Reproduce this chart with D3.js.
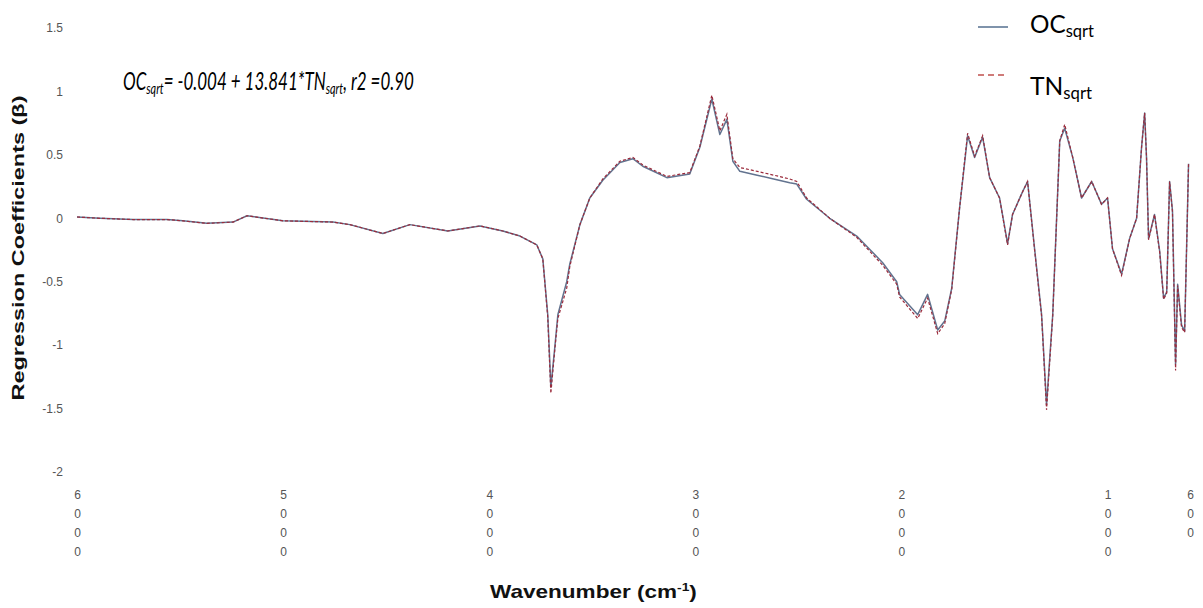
<!DOCTYPE html>
<html>
<head>
<meta charset="utf-8">
<script src="https://cdn.jsdelivr.net/npm/d3@7"></script>
<style>
  body { margin: 0; background: #fff; }
  svg { display: block; }
</style>
</head>
<body>
<div id="graph"></div>
<script>
// Chart data
var wavenumber = [6000, 5888, 5728, 5563, 5486, 5370, 5243, 5175, 5001, 4758, 4676, 4516, 4385, 4201, 4045,
    3934, 3851, 3769, 3740, 3716, 3701, 3682, 3667, 3624, 3609, 3560, 3512, 3449, 3366, 3303, 3255,
    3138, 3027, 2978, 2920, 2881, 2847, 2818, 2784, 2700, 2620, 2542, 2508, 2460, 2348, 2217, 2091, 2023, 2009,
    1921, 1873, 1824, 1790, 1756, 1718, 1679, 1645, 1606, 1572, 1524, 1485, 1461, 1412, 1388, 1354,
    1320, 1296, 1266, 1232, 1208, 1169, 1126, 1077, 1029, 1000, 976, 932, 893, 859, 835, 820,
    811, 801, 772, 747, 728, 713, 699, 685, 670, 660, 641, 626, 607];

var ocValues = [0.01, 0.00, -0.01, -0.01, -0.02, -0.04, -0.03, 0.02, -0.02, -0.03, -0.05, -0.12, -0.05, -0.10, -0.06,
    -0.10, -0.14, -0.21, -0.32, -0.76, -1.33, -1.02, -0.76, -0.50, -0.36, -0.05, 0.16, 0.30, 0.44, 0.47, 0.41,
    0.32, 0.35, 0.56, 0.94, 0.66, 0.78, 0.45, 0.37, 0.34, 0.31, 0.28, 0.27, 0.15, 0.00, -0.14, -0.35, -0.50, -0.60,
    -0.76, -0.60, -0.88, -0.81, -0.55, 0.08, 0.65, 0.48, 0.64, 0.32, 0.16, -0.20, 0.03, 0.21, 0.29, -0.24,
    -0.76, -1.47, -0.76, 0.61, 0.71, 0.48, 0.16, 0.29, 0.11, 0.16, -0.24, -0.44, -0.16, 0.00, 0.56, 0.83,
    0.48, -0.16, 0.03, -0.26, -0.63, -0.58, 0.29, 0.06, -1.15, -0.52, -0.84, -0.89, 0.43];

var tnValues = [0.01, 0.00, -0.01, -0.01, -0.02, -0.04, -0.03, 0.02, -0.02, -0.03, -0.05, -0.12, -0.05, -0.10, -0.06,
    -0.10, -0.14, -0.21, -0.32, -0.78, -1.38, -1.04, -0.79, -0.55, -0.38, -0.05, 0.16, 0.31, 0.45, 0.48, 0.42,
    0.33, 0.36, 0.57, 0.97, 0.69, 0.82, 0.47, 0.40, 0.37, 0.34, 0.31, 0.29, 0.16, 0.00, -0.15, -0.37, -0.52, -0.62,
    -0.79, -0.63, -0.91, -0.83, -0.56, 0.08, 0.67, 0.49, 0.65, 0.32, 0.16, -0.21, 0.03, 0.21, 0.29, -0.25,
    -0.77, -1.51, -0.77, 0.61, 0.74, 0.48, 0.16, 0.29, 0.11, 0.16, -0.24, -0.45, -0.16, 0.00, 0.56, 0.83,
    0.48, -0.17, 0.03, -0.27, -0.64, -0.59, 0.29, 0.05, -1.20, -0.53, -0.86, -0.90, 0.43];

var xTicks = [6000, 5000, 4000, 3000, 2000, 1000, 600];
var yTicks = [-2, -1.5, -1, -0.5, 0, 0.5, 1, 1.5];

// Canvas size
var width = 1203,
    height = 608;

// Scales
var x = d3.scaleLinear().domain([6000, 600]).range([77, 1190]),
    y = d3.scaleLinear().domain([-2, 1.5]).range([472, 28]);

var svg = d3.select('#graph')
    .append('svg')
    .attr('width', width)
    .attr('height', height);

// Y axis (labels only)
var yAxis = d3.axisLeft(y)
    .tickValues(yTicks)
    .tickSize(0)
    .tickPadding(0)
    .tickFormat(function(d) { return String(d); });

var gy = svg.append('g')
    .attr('transform', 'translate(63,0)')
    .call(yAxis);
gy.select('.domain').remove();
gy.selectAll('text')
    .attr('font-family', 'Arial, "Liberation Sans", sans-serif')
    .attr('font-size', 12)
    .attr('fill', '#555');

// X axis, digits stacked vertically
var xAxis = d3.axisBottom(x)
    .tickValues(xTicks)
    .tickSize(0)
    .tickFormat(function(d) { return String(d); });

var gx = svg.append('g')
    .attr('transform', 'translate(0,482)')
    .call(xAxis);
gx.select('.domain').remove();
gx.selectAll('.tick text').each(function(d) {
    var t = d3.select(this);
    var chars = String(d).split('');
    t.text(null).attr('y', 0).attr('dy', null)
        .attr('font-family', 'Arial, "Liberation Sans", sans-serif')
        .attr('font-size', 12)
        .attr('fill', '#555');
    chars.forEach(function(c, i) {
        t.append('tspan').attr('x', 0).attr('y', 17 + i * 19).text(c);
    });
});

// Lines
var makeLine = function(vals) {
    return d3.line()
        .x(function(d, i) { return x(wavenumber[i]); })
        .y(function(d) { return y(d); })(vals);
};

svg.append('path')
    .attr('class', 'line-oc')
    .attr('fill', 'none')
    .attr('stroke', '#62738f')
    .attr('stroke-width', 1.5)
    .attr('stroke-linejoin', 'round')
    .attr('d', makeLine(ocValues));

svg.append('path')
    .attr('class', 'line-tn')
    .attr('fill', 'none')
    .attr('stroke', '#9b2b3c')
    .attr('stroke-width', 1.2)
    .attr('stroke-dasharray', '3,2')
    .attr('d', makeLine(tnValues));

// Axis titles
svg.append('text')
    .attr('transform', 'translate(24,248) rotate(-90)')
    .attr('text-anchor', 'middle')
    .attr('font-family', 'Arial, "Liberation Sans", sans-serif')
    .attr('font-weight', 'bold')
    .attr('font-size', 17)
    .attr('textLength', 305)
    .attr('lengthAdjust', 'spacingAndGlyphs')
    .attr('fill', '#111')
    .text('Regression Coefficients (β)');

// stretch a text to a target width
function fitWidth(sel, x0, y0, w) {
    var tw = sel.node().getComputedTextLength();
    sel.attr('transform', 'translate(' + x0 + ',' + y0 + ') scale(' + (w / tw) + ',1)');
}

var xt = svg.append('text')
    .attr('font-family', 'Arial, "Liberation Sans", sans-serif')
    .attr('font-weight', 'bold')
    .attr('font-size', 18)
    .attr('fill', '#111');
xt.append('tspan').text('Wavenumber (cm');
xt.append('tspan').attr('font-size', 11).attr('dy', -7).text('-1');
xt.append('tspan').attr('dy', 7).text(')');
fitWidth(xt, 490, 598, 207);

// Equation
var eq = svg.append('text')
    .attr('font-family', 'Lato, "Open Sans", sans-serif')
    .attr('font-style', 'italic')
    .attr('font-size', 25)
    .attr('fill', '#000');
eq.append('tspan').text('OC');
eq.append('tspan').attr('font-size', 16).attr('dy', 4).text('sqrt');
eq.append('tspan').attr('dy', -4).text('= -0.004 + 13.841*TN');
eq.append('tspan').attr('font-size', 16).attr('dy', 4).text('sqrt');
eq.append('tspan').attr('dy', -4).text(', r2 =0.90');
fitWidth(eq, 123, 90, 291);

// Legend
var legend = svg.append('g');
legend.append('line')
    .attr('x1', 978).attr('x2', 1008).attr('y1', 27).attr('y2', 27)
    .attr('stroke', '#7f93ab').attr('stroke-width', 2);
legend.append('line')
    .attr('x1', 978).attr('x2', 1008).attr('y1', 75).attr('y2', 75)
    .attr('stroke', '#c0504d').attr('stroke-width', 1.5)
    .attr('stroke-dasharray', '6,4');

var l1 = legend.append('text')
    .attr('font-family', 'Lato, "Open Sans", sans-serif')
    .attr('font-size', 25)
    .attr('fill', '#000');
l1.append('tspan').text('OC');
l1.append('tspan').attr('font-size', 17).attr('dy', 4).text('sqrt');
fitWidth(l1, 1030, 33, 64);

var l2 = legend.append('text')
    .attr('font-family', 'Lato, "Open Sans", sans-serif')
    .attr('font-size', 25)
    .attr('fill', '#000');
l2.append('tspan').text('TN');
l2.append('tspan').attr('font-size', 17).attr('dy', 4).text('sqrt');
fitWidth(l2, 1030, 95, 62);
</script>
</body>
</html>
